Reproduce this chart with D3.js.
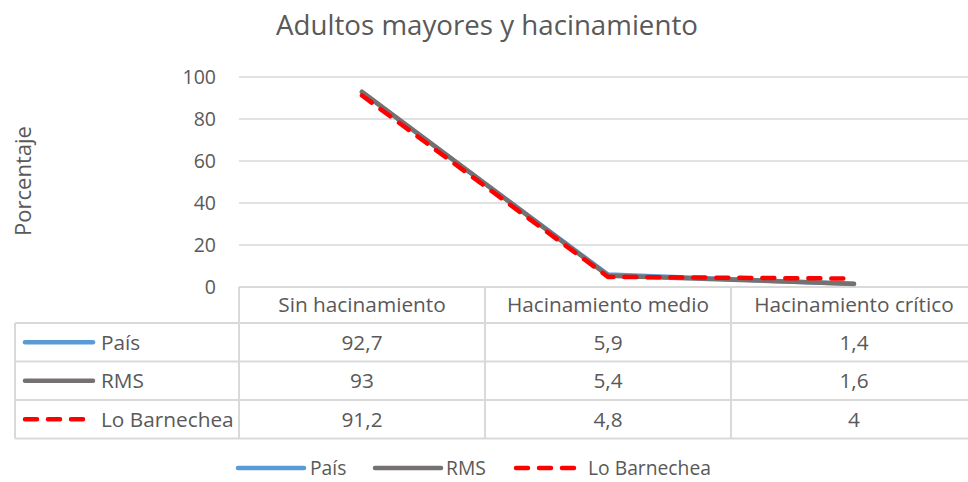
<!DOCTYPE html>
<html>
<head>
<meta charset="utf-8">
<script src="https://cdn.jsdelivr.net/npm/d3@7"></script>
<style>
  body { margin: 0; background: #fff; }
  text { font-family: "Open Sans", sans-serif; fill: #595959; }
</style>
</head>
<body>
<script>
const width = 968, height = 482;

const categories = ["Sin hacinamiento", "Hacinamiento medio", "Hacinamiento crítico"];
const seriesNames = ["País", "RMS", "Lo Barnechea"];
const pais = [92.7, 5.9, 1.4];
const rms = [93, 5.4, 1.6];
const barnechea = [91.2, 4.8, 4];
const yTicks = [0, 20, 40, 60, 80, 100];

const series = [
  { name: seriesNames[0], values: pais, color: "#5B9BD5", dash: null },
  { name: seriesNames[1], values: rms, color: "#767171", dash: null },
  { name: seriesNames[2], values: barnechea, color: "#FF0000", dash: "12,11" }
];

const fmt = v => String(v).replace(".", ",");

const plotLeft = 239, plotRight = 977, plotTop = 77, plotBottom = 287;
const tableLeft = 15, headerH = 36, rowH = 38.5;
const gridColor = "#D9D9D9";
const tableFont = 20.8;

const svg = d3.select("body").append("svg").attr("width", width).attr("height", height);

const x = d3.scaleBand().domain(categories).range([plotLeft, plotRight]).padding(0);
const y = d3.scaleLinear().domain([0, 100]).range([plotBottom, plotTop]);

// title
svg.append("text")
  .attr("x", 487).attr("y", 35)
  .attr("text-anchor", "middle")
  .attr("font-size", 27.7)
  .text("Adultos mayores y hacinamiento");

// y axis title
svg.append("text")
  .attr("transform", "translate(31,181) rotate(-90)")
  .attr("text-anchor", "middle")
  .attr("font-size", 22)
  .text("Porcentaje");

// gridlines
svg.selectAll("line.grid")
  .data(yTicks.filter(d => d > 0))
  .enter().append("line")
  .attr("class", "grid")
  .attr("x1", plotLeft).attr("x2", plotRight)
  .attr("y1", d => y(d)).attr("y2", d => y(d))
  .attr("stroke", gridColor).attr("stroke-width", 1.5);

// tick labels
svg.selectAll("text.ytick")
  .data(yTicks)
  .enter().append("text")
  .attr("class", "ytick")
  .attr("x", 216).attr("y", d => y(d))
  .attr("dy", "0.35em")
  .attr("text-anchor", "end")
  .attr("font-size", 19.5)
  .text(d => d);

// table
const rowsTop = plotBottom + headerH;
const tableBottom = rowsTop + rowH * series.length;
const table = svg.append("g");

// horizontal lines
table.append("line")
  .attr("x1", plotLeft).attr("x2", plotRight)
  .attr("y1", plotBottom).attr("y2", plotBottom)
  .attr("stroke", gridColor).attr("stroke-width", 2);
d3.range(series.length + 1).forEach(i => {
  const yy = rowsTop + i * rowH;
  table.append("line")
    .attr("x1", tableLeft).attr("x2", plotRight)
    .attr("y1", yy).attr("y2", yy)
    .attr("stroke", gridColor).attr("stroke-width", 2);
});
// vertical lines
table.append("line")
  .attr("x1", tableLeft).attr("x2", tableLeft)
  .attr("y1", rowsTop).attr("y2", tableBottom)
  .attr("stroke", gridColor).attr("stroke-width", 2);
categories.concat([null]).forEach(c => {
  const xx = c ? x(c) : plotRight;
  table.append("line")
    .attr("x1", xx).attr("x2", xx)
    .attr("y1", plotBottom).attr("y2", tableBottom)
    .attr("stroke", gridColor).attr("stroke-width", 2);
});

// header texts
table.selectAll("text.cat")
  .data(categories)
  .enter().append("text")
  .attr("class", "cat")
  .attr("x", d => x(d) + x.bandwidth() / 2)
  .attr("y", plotBottom + headerH / 2)
  .attr("dy", "0.35em")
  .attr("text-anchor", "middle")
  .attr("font-size", tableFont)
  .text(d => d);

// rows
series.forEach((s, i) => {
  const cy = rowsTop + i * rowH + rowH / 2;
  table.append("line")
    .attr("x1", 25).attr("x2", 93)
    .attr("y1", cy).attr("y2", cy)
    .attr("stroke", s.color).attr("stroke-width", 4.5)
    .attr("stroke-linecap", "round")
    .attr("stroke-dasharray", s.dash);
  table.append("text")
    .attr("x", 101).attr("y", cy)
    .attr("dy", "0.35em")
    .attr("font-size", tableFont)
    .text(s.name);
  s.values.forEach((v, j) => {
    table.append("text")
      .attr("x", x(categories[j]) + x.bandwidth() / 2)
      .attr("y", cy)
      .attr("dy", "0.35em")
      .attr("text-anchor", "middle")
      .attr("font-size", tableFont)
      .text(fmt(v));
  });
});

// lines
const line = d3.line()
  .x((d, i) => x(categories[i]) + x.bandwidth() / 2)
  .y(d => y(d));

svg.selectAll("path.series")
  .data(series)
  .enter().append("path")
  .attr("class", "series")
  .attr("d", d => line(d.values))
  .attr("fill", "none")
  .attr("stroke", d => d.color)
  .attr("stroke-width", 4.5)
  .attr("stroke-linecap", "round")
  .attr("stroke-linejoin", "round")
  .attr("stroke-dasharray", d => d.dash);

// legend
const legendItems = [
  { x: 238, tx: 310 },
  { x: 375, tx: 446 },
  { x: 516, tx: 588 }
];
const ly = 468;
series.forEach((s, i) => {
  const it = legendItems[i];
  svg.append("line")
    .attr("x1", it.x).attr("x2", it.x + 66)
    .attr("y1", ly).attr("y2", ly)
    .attr("stroke", s.color).attr("stroke-width", 4.5)
    .attr("stroke-linecap", "round")
    .attr("stroke-dasharray", s.dash);
  svg.append("text")
    .attr("x", it.tx).attr("y", ly)
    .attr("dy", "0.35em")
    .attr("font-size", 19.3)
    .text(s.name);
});
</script>
</body>
</html>
